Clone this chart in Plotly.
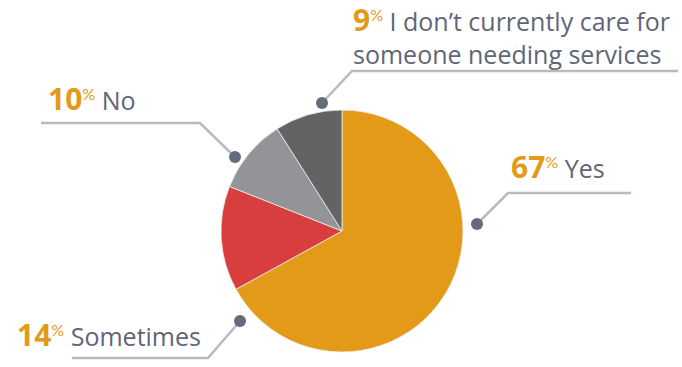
import plotly.graph_objects as go

# Survey answers
answers = ["Yes", "Sometimes", "No", "I don\u2019t currently care for<br>someone needing services"]
shares = [67, 14, 10, 9]
colors = ["#E29A18", "#D93E3E", "#939497", "#636365"]

W, H = 682, 367
ORANGE = "#E29A18"
TEXT = "#606677"
LEADER = "#B7BAC1"
DOT = "#646B7C"

# Pie placement in pixels (centre and radius)
cx, cy, r = 342, 231, 121

fig = go.Figure()
fig.add_trace(go.Pie(
    labels=answers, values=shares, sort=False, direction="clockwise", rotation=0,
    marker=dict(colors=colors, line=dict(color="#EDEDED", width=0.8)),
    textinfo="none", hoverinfo="label+percent", showlegend=False,
    domain=dict(x=[(cx - r) / W, (cx + r) / W], y=[1 - (cy + r) / H, 1 - (cy - r) / H]),
))

# Label callouts: text anchor, elbow path and dot (pixel space)
callouts = [
    dict(idx=0, text_xy=(509, 166), path=[(631, 193), (508, 193), (477, 224)]),
    dict(idx=1, text_xy=(15, 334), path=[(72, 358), (208, 358), (240, 321)]),
    dict(idx=2, text_xy=(46, 98), path=[(41, 123), (200, 123), (235, 157)]),
    dict(idx=3, text_xy=(351, 35), path=[(678, 71), (352, 71), (322, 103)]),
]

for c in callouts:
    xs = [p[0] for p in c["path"]]
    ys = [p[1] for p in c["path"]]
    fig.add_trace(go.Scatter(x=xs, y=ys, mode="lines", line=dict(color=LEADER, width=2.5),
                             hoverinfo="skip", showlegend=False))
    fig.add_trace(go.Scatter(x=[xs[-1]], y=[ys[-1]], mode="markers",
                             marker=dict(color=DOT, size=12), hoverinfo="skip", showlegend=False))
    i = c["idx"]
    label = (f"<span style='font-family:Open Sans;font-weight:800;font-size:30px;color:{ORANGE}'><b>{shares[i]}</b></span>"
             f"<span style='font-family:Lato;font-size:23px;color:{ORANGE}'><sup>%</sup></span> {answers[i]}")
    fig.add_annotation(x=c["text_xy"][0], y=c["text_xy"][1], xref="x", yref="y",
                       text=label, showarrow=False, xanchor="left", yanchor="middle", align="left",
                       font=dict(family="Open Sans", size=25, color=TEXT))

fig.update_layout(
    width=W, height=H, margin=dict(l=0, r=0, t=0, b=0),
    paper_bgcolor="white", plot_bgcolor="rgba(0,0,0,0)",
    xaxis=dict(range=[0, W], visible=False, fixedrange=True, domain=[0, 1]),
    yaxis=dict(range=[H, 0], visible=False, fixedrange=True, domain=[0, 1]),
)

fig.write_html("out.html")
